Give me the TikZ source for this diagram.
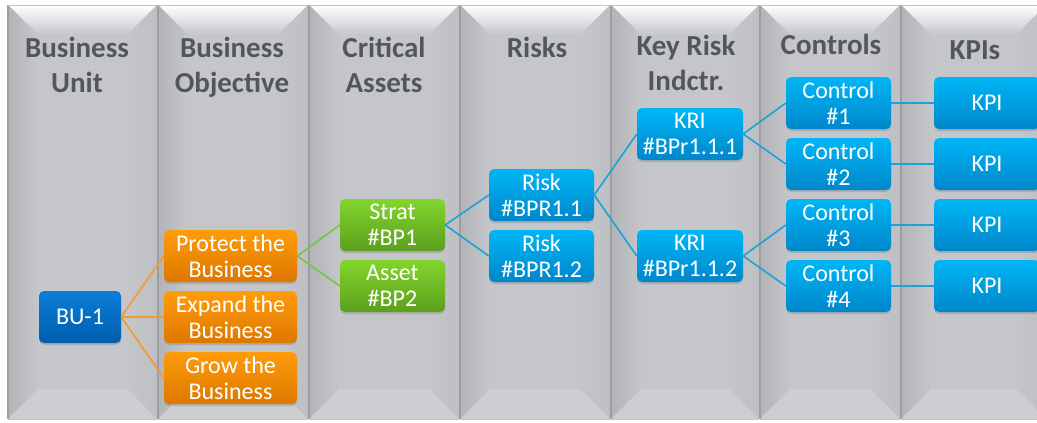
\documentclass[tikz,border=0pt]{standalone}
\usepackage{fontspec}
\setmainfont{Carlito}
\usetikzlibrary{shadows}

\definecolor{face}{HTML}{C5C6CA}
\definecolor{sideL}{HTML}{B3B4B8}
\definecolor{sideR}{HTML}{BEBFC3}
\definecolor{bevelB}{HTML}{CDCED2}
\definecolor{edgec}{HTML}{9C9DA1}
\definecolor{headc}{HTML}{53575B}
\definecolor{buTop}{HTML}{0A7DD8}
\definecolor{buBot}{HTML}{005EAD}
\definecolor{orTop}{HTML}{FF9C0A}
\definecolor{orBot}{HTML}{DE7700}
\definecolor{grTop}{HTML}{82D52C}
\definecolor{grBot}{HTML}{5C9F1E}
\definecolor{lbTop}{HTML}{00B6F6}
\definecolor{lbBot}{HTML}{0086CA}
\definecolor{orLine}{HTML}{F39A2A}
\definecolor{grLine}{HTML}{7CC242}
\definecolor{lbLine}{HTML}{1BA2DA}

\tikzset{
  box/.style={rounded corners=5pt, minimum width=105pt, minimum height=52pt,
    inner sep=0pt, align=center, text=white,
    font=\fontsize{24}{26}\selectfont,
    drop shadow={opacity=0.35, shadow xshift=0pt, shadow yshift=-2pt}},
  bubox/.style={box, top color=buTop, bottom color=buBot, minimum width=82pt},
  objbox/.style={box, top color=orTop, bottom color=orBot, minimum width=133pt},
  assetbox/.style={box, top color=grTop, bottom color=grBot},
  bluebox/.style={box, top color=lbTop, bottom color=lbBot},
  header/.style={align=center, text=headc, font=\bfseries\fontsize{29}{35}\selectfont},
  olink/.style={draw=orLine, line width=1.6pt},
  glink/.style={draw=grLine, line width=1.6pt},
  blink/.style={draw=lbLine, line width=1.6pt}
}

\begin{document}
\begin{tikzpicture}[x=1pt,y=1pt]
\useasboundingbox (0,0) rectangle (1037,-423);
\fill[white] (0,0) rectangle (1037,-423);

% bevelled grey columns
\foreach \a/\b in {8/157,158/308,309/459,460/610,611/759,760/900,901/1046}{
  \fill[face] (\a,-5) rectangle (\b,-419);
  \shade[top color=white, bottom color=face]
    (\a,-5) -- (\b,-5) -- ({\b-30},-35) -- ({\a+30},-35) -- cycle;
  \shade[left color=sideL, right color=face]
    (\a,-5) -- ({\a+30},-35) -- ({\a+30},-389) -- (\a,-419) -- cycle;
  \shade[left color=face, right color=sideR]
    (\b,-5) -- ({\b-30},-35) -- ({\b-30},-389) -- (\b,-419) -- cycle;
  \fill[bevelB]
    (\a,-419) -- ({\a+30},-389) -- ({\b-30},-389) -- (\b,-419) -- cycle;
  \draw[edgec, line width=1.2pt] (\a,-5) -- (\a,-419);
  \draw[edgec!60, line width=0.6pt] (\a,-5) -- (\b,-5);
  \draw[edgec!60, line width=0.6pt] (\a,-419) -- (\b,-419);
}

% column headings
\node[header] (h1) at (77,-64.5) {Business\\Unit};
\node[header] (h2) at (232,-67) {Business\\Objective};
\node[header] (h3) at (384,-64.5) {Critical\\Assets};
\node[header] (h4) at (537,-47) {Risks};
\node[header] (h5) at (686,-62.5) {Key Risk\\Indctr.};
\node[header] (h6) at (831,-44) {Controls};
\node[header] (h7) at (975,-50) {KPIs};

% boxes
\node[bubox] (bu) at (80,-317) {BU-1};
\node[objbox] (o1) at (230.5,-256) {Protect the\\Business};
\node[objbox] (o2) at (230.5,-317) {Expand the\\Business};
\node[objbox] (o3) at (230.5,-378) {Grow the\\Business};
\node[assetbox] (a1) at (392.5,-225) {Strat\\\#BP1};
\node[assetbox] (a2) at (392.5,-286) {Asset\\\#BP2};
\node[bluebox] (r1) at (541.5,-195) {Risk\\\#BPR1.1};
\node[bluebox] (r2) at (541.5,-256) {Risk\\\#BPR1.2};
\node[bluebox, minimum width=106pt] (k1) at (690,-134) {KRI\\\#BPr1.1.1};
\node[bluebox, minimum width=106pt] (k2) at (690,-256) {KRI\\\#BPr1.1.2};
\node[bluebox] (c1) at (838.5,-103) {Control\\\#1};
\node[bluebox] (c2) at (838.5,-164) {Control\\\#2};
\node[bluebox] (c3) at (838.5,-225) {Control\\\#3};
\node[bluebox] (c4) at (838.5,-286) {Control\\\#4};
\node[bluebox, minimum width=106pt] (p1) at (987,-103) {KPI};
\node[bluebox, minimum width=106pt] (p2) at (987,-164) {KPI};
\node[bluebox, minimum width=106pt] (p3) at (987,-225) {KPI};
\node[bluebox, minimum width=106pt] (p4) at (987,-286) {KPI};

% connectors
\draw[olink] (bu.east) -- (o1.west);
\draw[olink] (bu.east) -- (o2.west);
\draw[olink] (bu.east) -- (o3.west);
\draw[glink] (o1.east) -- (a1.west);
\draw[glink] (o1.east) -- (a2.west);
\draw[blink] (a1.east) -- (r1.west);
\draw[blink] (a1.east) -- (r2.west);
\draw[blink] (r1.east) -- (k1.west);
\draw[blink] (r1.east) -- (k2.west);
\draw[blink] (k1.east) -- (c1.west);
\draw[blink] (k1.east) -- (c2.west);
\draw[blink] (k2.east) -- (c3.west);
\draw[blink] (k2.east) -- (c4.west);
\draw[blink] (c1.east) -- (p1.west);
\draw[blink] (c2.east) -- (p2.west);
\draw[blink] (c3.east) -- (p3.west);
\draw[blink] (c4.east) -- (p4.west);
\end{tikzpicture}
\end{document}
